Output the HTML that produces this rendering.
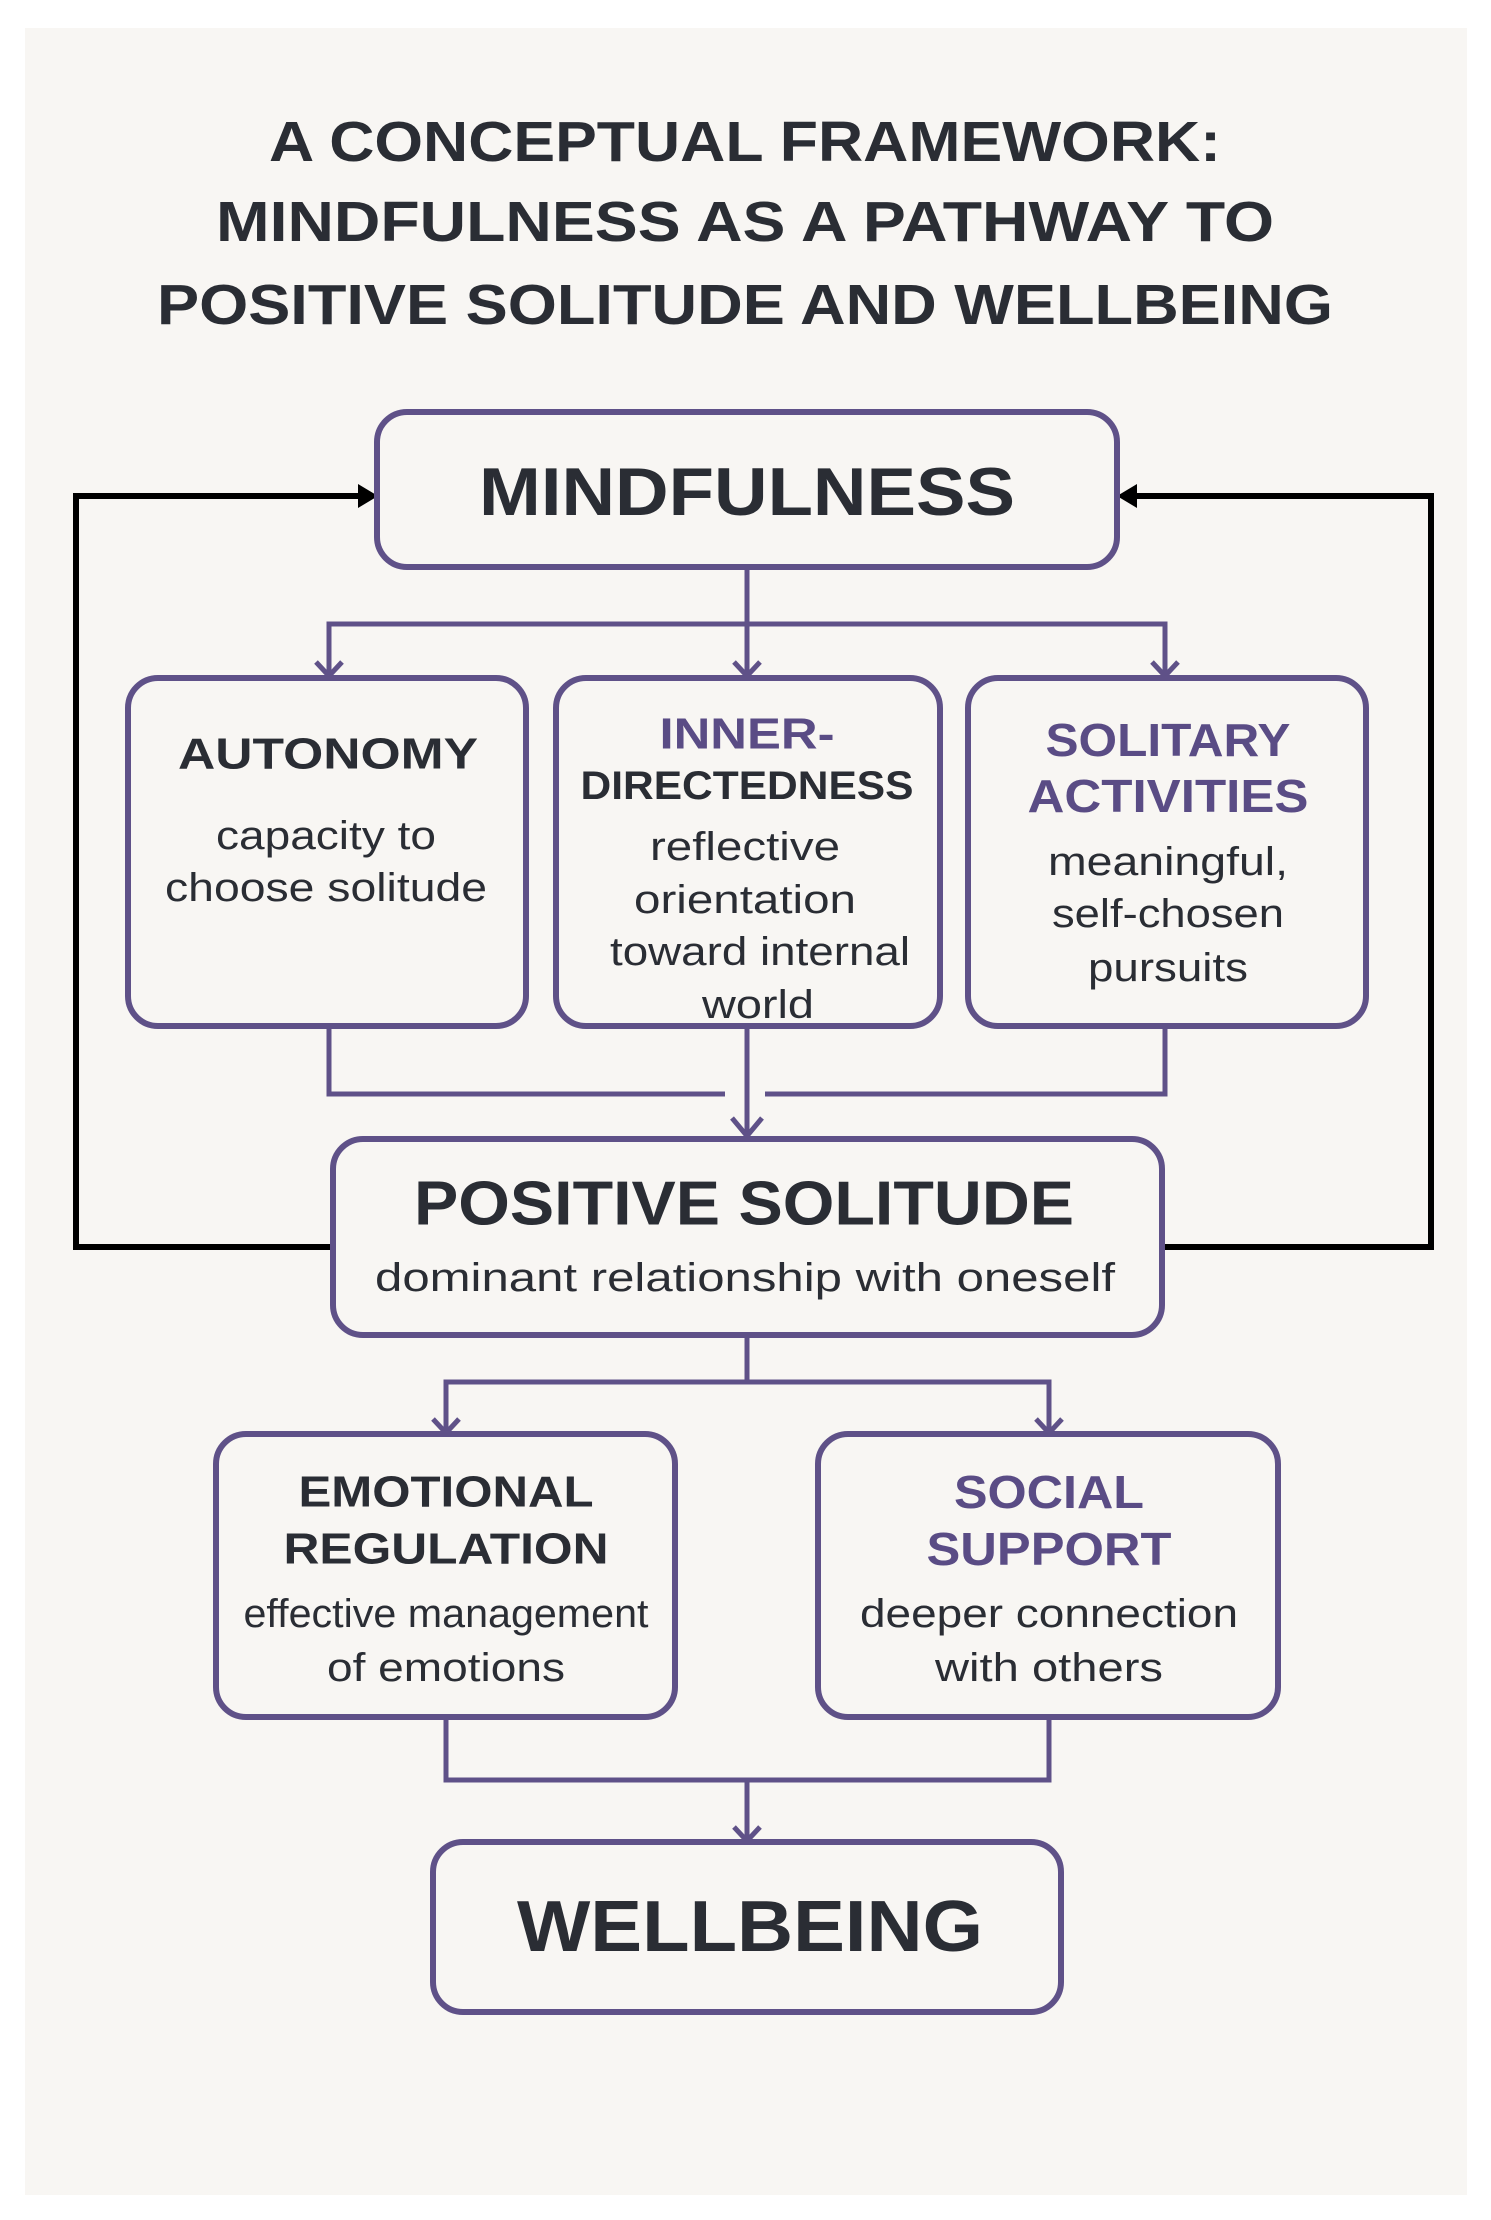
<!DOCTYPE html>
<html><head><meta charset="utf-8"><style>
html,body{margin:0;padding:0;background:#fff;}
svg{display:block}
text{font-family:"Liberation Sans",sans-serif;text-anchor:middle;dominant-baseline:central}
</style></head><body>
<svg width="1491" height="2220" viewBox="0 0 1491 2220" xmlns="http://www.w3.org/2000/svg">
<rect x="25" y="28" width="1442" height="2167" fill="#f8f6f3"/>
<g fill="#2a2d34" font-weight="bold" font-size="57">
<text x="745" y="142" textLength="952" lengthAdjust="spacingAndGlyphs">A CONCEPTUAL FRAMEWORK:</text>
<text x="745" y="222" textLength="1058" lengthAdjust="spacingAndGlyphs">MINDFULNESS AS A PATHWAY TO</text>
<text x="745" y="305" textLength="1176" lengthAdjust="spacingAndGlyphs">POSITIVE SOLITUDE AND WELLBEING</text>
</g>
<!-- black feedback -->
<g stroke="#000" stroke-width="6" fill="none">
<polyline points="360,496 76,496 76,1247 332,1247"/>
<polyline points="1133,496 1431,496 1431,1247 1162,1247"/>
</g>
<polygon points="378,496 358,484 358,508" fill="#000"/>
<polygon points="1117,496 1137,484 1137,508" fill="#000"/>
<!-- purple connectors -->
<g stroke="#5f5188" stroke-width="5" fill="none">
<polyline points="747,567 747,624"/>
<polyline points="329,676 329,624 1165,624 1165,676"/>
<line x1="747" y1="624" x2="747" y2="676"/>
<polyline points="316,662 329,676 342,662"/><polyline points="734,662 747,676 760,662"/><polyline points="1152,662 1165,676 1178,662"/>
<polyline points="329,1026 329,1094 725,1094"/>
<polyline points="1165,1026 1165,1094 765,1094"/>
<line x1="747" y1="1026" x2="747" y2="1138"/>
<polyline points="732,1118 747,1136 762,1118"/>
<polyline points="747,1335 747,1382"/>
<polyline points="446,1433 446,1382 1049,1382 1049,1433"/>
<polyline points="433,1419 446,1433 459,1419"/><polyline points="1036,1419 1049,1433 1062,1419"/>
<polyline points="446,1717 446,1780 1049,1780 1049,1717"/>
<line x1="747" y1="1780" x2="747" y2="1841"/>
<polyline points="734,1827 747,1841 760,1827"/>
</g>
<!-- boxes -->
<g stroke="#5f5188" stroke-width="6" fill="#f8f6f3">
<rect x="377" y="412" width="740" height="155" rx="30"/>
<rect x="128" y="678" width="398" height="348" rx="30"/>
<rect x="556" y="678" width="384" height="348" rx="30"/>
<rect x="968" y="678" width="398" height="348" rx="30"/>
<rect x="333" y="1139" width="829" height="196" rx="30"/>
<rect x="216" y="1434" width="459" height="283" rx="30"/>
<rect x="818" y="1434" width="460" height="283" rx="30"/>
<rect x="433" y="1842" width="628" height="170" rx="30"/>
</g>
<g fill="#2a2d34" font-weight="bold">
<text x="747" y="492" font-size="68" textLength="536" lengthAdjust="spacingAndGlyphs">MINDFULNESS</text>
<text x="328" y="754" font-size="44" textLength="300" lengthAdjust="spacingAndGlyphs">AUTONOMY</text>
<text x="747" y="786" font-size="40" textLength="333" lengthAdjust="spacingAndGlyphs">DIRECTEDNESS</text>
<text x="744" y="1204" font-size="62" textLength="660" lengthAdjust="spacingAndGlyphs">POSITIVE SOLITUDE</text>
<text x="446" y="1492" font-size="44" textLength="295" lengthAdjust="spacingAndGlyphs">EMOTIONAL</text>
<text x="446" y="1549" font-size="44" textLength="325" lengthAdjust="spacingAndGlyphs">REGULATION</text>
<text x="750" y="1927" font-size="72" textLength="466" lengthAdjust="spacingAndGlyphs">WELLBEING</text>
</g>
<g fill="#5a4c85" font-weight="bold">
<text x="747" y="734" font-size="44" textLength="175" lengthAdjust="spacingAndGlyphs">INNER-</text>
<text x="1168" y="740" font-size="46" textLength="245" lengthAdjust="spacingAndGlyphs">SOLITARY</text>
<text x="1168" y="796" font-size="46" textLength="281" lengthAdjust="spacingAndGlyphs">ACTIVITIES</text>
<text x="1049" y="1492" font-size="46" textLength="190" lengthAdjust="spacingAndGlyphs">SOCIAL</text>
<text x="1049" y="1549" font-size="46" textLength="245" lengthAdjust="spacingAndGlyphs">SUPPORT</text>
</g>
<g fill="#2a2d34" font-size="40">
<text x="326" y="836" textLength="220" lengthAdjust="spacingAndGlyphs">capacity to</text>
<text x="326" y="888" textLength="322" lengthAdjust="spacingAndGlyphs">choose solitude</text>
<text x="745" y="847" textLength="190" lengthAdjust="spacingAndGlyphs">reflective</text>
<text x="745" y="900" textLength="222" lengthAdjust="spacingAndGlyphs">orientation</text>
<text x="760" y="952" textLength="300" lengthAdjust="spacingAndGlyphs">toward internal</text>
<text x="758" y="1005" textLength="112" lengthAdjust="spacingAndGlyphs">world</text>
<text x="1168" y="862" textLength="240" lengthAdjust="spacingAndGlyphs">meaningful,</text>
<text x="1168" y="914" textLength="232" lengthAdjust="spacingAndGlyphs">self-chosen</text>
<text x="1168" y="968" textLength="160" lengthAdjust="spacingAndGlyphs">pursuits</text>
<text x="745" y="1278" textLength="740" lengthAdjust="spacingAndGlyphs">dominant relationship with oneself</text>
<text x="446" y="1614" textLength="405" lengthAdjust="spacingAndGlyphs">effective management</text>
<text x="446" y="1668" textLength="238" lengthAdjust="spacingAndGlyphs">of emotions</text>
<text x="1049" y="1614" textLength="378" lengthAdjust="spacingAndGlyphs">deeper connection</text>
<text x="1049" y="1668" textLength="228" lengthAdjust="spacingAndGlyphs">with others</text>
</g>
</svg>
</body></html>
